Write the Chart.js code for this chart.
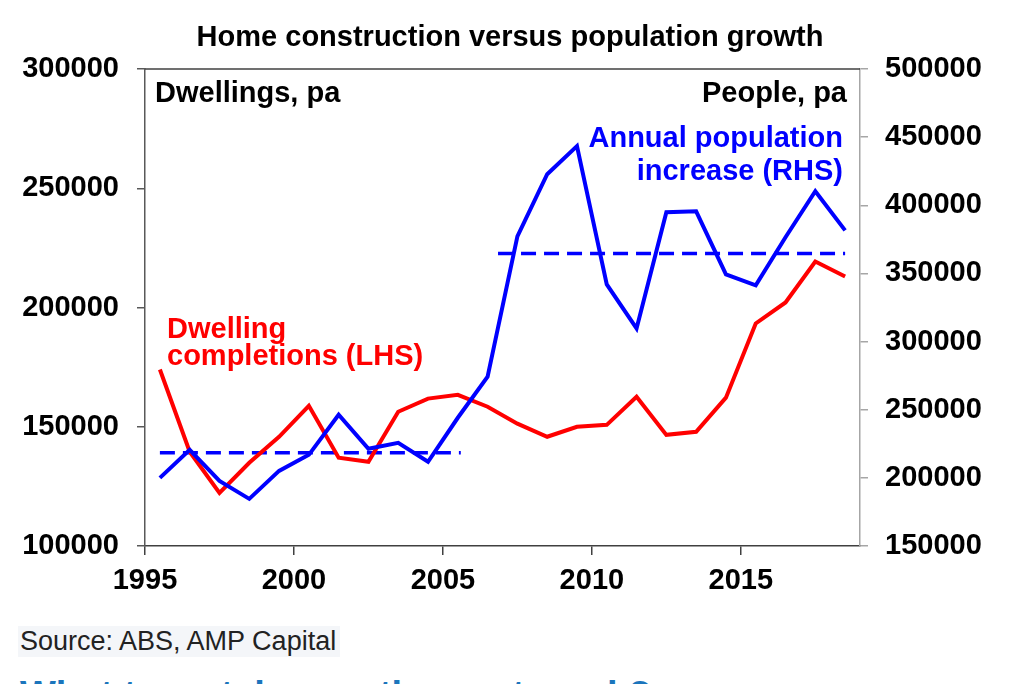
<!DOCTYPE html>
<html>
<head>
<meta charset="utf-8">
<title>Home construction versus population growth</title>
<script src="https://cdn.jsdelivr.net/npm/chart.js@4.4.1/dist/chart.umd.min.js"></script>
<style>
  html, body {
    margin: 0;
    padding: 0;
    background: #ffffff;
    width: 1024px;
    height: 684px;
    overflow: hidden;
    font-family: "Liberation Sans", Arial, sans-serif;
  }
  #chart-wrap {
    position: absolute;
    left: 0;
    top: 0;
    width: 1024px;
    height: 600px;
  }
  .source {
    position: absolute;
    left: 18px;
    top: 626px;
    height: 31px;
    line-height: 31px;
    padding: 0 4px 0 2px;
    background: #f4f6f9;
    color: #222222;
    font-size: 27px;
  }
  .next-heading {
    position: absolute;
    left: 20px;
    top: 675px;
    line-height: 40px;
    color: #1b75bc;
    font-size: 38px;
    font-weight: bold;
    white-space: nowrap;
  }
</style>
</head>
<body>
<div id="chart-wrap"><canvas id="chart"></canvas></div>
<div class="source">Source: ABS, AMP Capital</div>
<div class="next-heading">What to watch over the next week?</div>

<script>
// Mid-year points, 1995/96 .. 2018/19
const years = [
  1995.5, 1996.5, 1997.5, 1998.5, 1999.5, 2000.5, 2001.5, 2002.5,
  2003.5, 2004.5, 2005.5, 2006.5, 2007.5, 2008.5, 2009.5, 2010.5,
  2011.5, 2012.5, 2013.5, 2014.5, 2015.5, 2016.5, 2017.5, 2018.5
];

// Dwelling completions, LHS
const dwellings = [
  174000, 139500, 122300, 134900, 145800, 158800, 137000, 135300,
  156300, 161800, 163400, 158400, 151300, 145800, 150000, 150800,
  162600, 146600, 147900, 162200, 193300, 202100, 219300, 213000
];

// Annual population increase, RHS
const population = [
  200000, 220600, 197800, 184600, 205100, 216900, 246300, 221300,
  225700, 211800, 244100, 274300, 377200, 422800, 443400, 341900,
  309600, 394900, 395600, 349300, 341200, 376500, 410300, 381600
];

// Dashed averages of population increase (start/end of each period)
const avgEarlyYears = [1995.5, 2005.6];
const avgEarly = [218400, 218400];
const avgLateYears = [2006.85, 2018.5];
const avgLate = [364700, 364700];

const xTicks = [1995, 2000, 2005, 2010, 2015];

const BOLD = '"Liberation Sans", Arial, sans-serif';

function toPoints(xs, ys) {
  return xs.map((x, i) => ({ x: x, y: ys[i] }));
}

/**
 * Title, top frame line and the in-plot labels
 */
const labelsPlugin = {
  id: 'labels',
  afterDraw(chart) {
    const ctx = chart.ctx;
    const area = chart.chartArea;
    ctx.save();

    // top frame line
    ctx.strokeStyle = '#404040';
    ctx.lineWidth = 1.5;
    ctx.beginPath();
    ctx.moveTo(area.left, area.top);
    ctx.lineTo(area.right, area.top);
    ctx.stroke();

    ctx.textBaseline = 'alphabetic';

    // chart title
    ctx.font = 'bold 29px ' + BOLD;
    ctx.fillStyle = '#000000';
    ctx.textAlign = 'center';
    ctx.fillText('Home construction versus population growth', 510, 46);

    // axis units
    ctx.textAlign = 'left';
    ctx.fillText('Dwellings, pa', area.left + 10, area.top + 33);
    ctx.textAlign = 'right';
    ctx.fillText('People, pa', area.right - 13, area.top + 33);

    // series labels
    ctx.fillStyle = '#0000ff';
    ctx.fillText('Annual population', area.right - 17, area.top + 78);
    ctx.fillText('increase (RHS)', area.right - 17, area.top + 111);

    ctx.fillStyle = '#ff0000';
    ctx.textAlign = 'left';
    ctx.fillText('Dwelling', area.left + 22, area.top + 269);
    ctx.fillText('completions (LHS)', area.left + 22, area.top + 296);

    ctx.restore();
  }
};

const tickFont = { family: BOLD, size: 29, weight: 'bold' };

new Chart(document.getElementById('chart'), {
  type: 'line',
  data: {
    datasets: [
      {
        label: 'Annual population increase (RHS)',
        data: toPoints(years, population),
        yAxisID: 'y1',
        borderColor: '#0000ff',
        borderWidth: 4,
        pointRadius: 0,
        tension: 0
      },
      {
        label: 'Dwelling completions (LHS)',
        data: toPoints(years, dwellings),
        yAxisID: 'y',
        borderColor: '#ff0000',
        borderWidth: 4,
        pointRadius: 0,
        tension: 0
      },
      {
        label: 'Average 1995-2005',
        data: toPoints(avgEarlyYears, avgEarly),
        yAxisID: 'y1',
        borderColor: '#0000ff',
        borderWidth: 3.5,
        borderDash: [15, 8],
        pointRadius: 0
      },
      {
        label: 'Average 2006-2018',
        data: toPoints(avgLateYears, avgLate),
        yAxisID: 'y1',
        borderColor: '#0000ff',
        borderWidth: 3.5,
        borderDash: [15, 8],
        pointRadius: 0
      }
    ]
  },
  options: {
    responsive: true,
    maintainAspectRatio: false,
    animation: false,
    layout: { padding: { top: 69, left: 0, right: 0, bottom: 0 } },
    plugins: {
      legend: { display: false },
      title: { display: false },
      tooltip: { enabled: false }
    },
    scales: {
      x: {
        type: 'linear',
        min: 1995,
        max: 2019,
        afterBuildTicks: (scale) => { scale.ticks = xTicks.map(v => ({ value: v })); },
        afterFit: (scale) => { scale.height = 54; },
        border: { display: true, color: '#404040', width: 1.5 },
        grid: { drawOnChartArea: false, drawTicks: true, tickLength: 9, color: '#404040', lineWidth: 1.5 },
        ticks: {
          font: tickFont,
          color: '#000000',
          padding: 9,
          maxRotation: 0,
          callback: (v) => String(v)
        }
      },
      y: {
        position: 'left',
        min: 100000,
        max: 300000,
        afterFit: (scale) => { scale.width = 145; },
        border: { display: true, color: '#595959', width: 1.5 },
        grid: { drawOnChartArea: false, drawTicks: true, tickLength: 8, color: '#595959', lineWidth: 1.5 },
        ticks: {
          stepSize: 50000,
          font: tickFont,
          color: '#000000',
          padding: 18,
          callback: (v) => String(v)
        }
      },
      y1: {
        position: 'right',
        min: 150000,
        max: 500000,
        afterFit: (scale) => { scale.width = 164; },
        border: { display: true, color: '#a6a6a6', width: 1.5 },
        grid: { drawOnChartArea: false, drawTicks: true, tickLength: 8, color: '#a6a6a6', lineWidth: 1.5 },
        ticks: {
          stepSize: 50000,
          font: tickFont,
          color: '#000000',
          padding: 17,
          callback: (v) => String(v)
        }
      }
    }
  },
  plugins: [labelsPlugin]
});
</script>
</body>
</html>
